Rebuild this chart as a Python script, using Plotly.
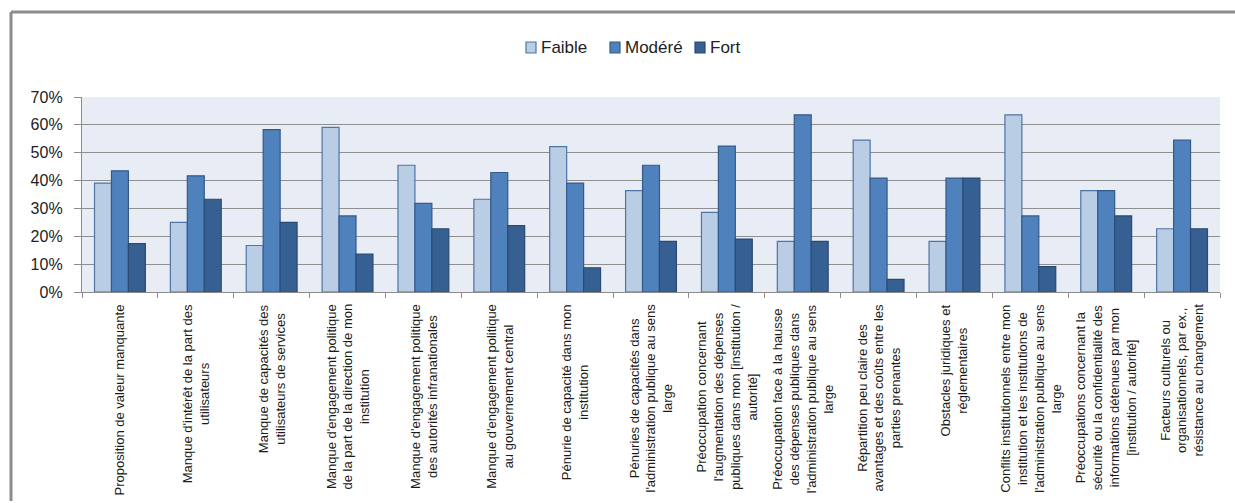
import plotly.graph_objects as go

# Obstacles (catégories) et part des réponses par niveau, en %
categories = [
    "Proposition de valeur manquante",
    "Manque d'intérêt de la part des<br>utilisateurs",
    "Manque de capacités des<br>utilisateurs de services",
    "Manque d'engagement politique<br>de la part de la direction de mon<br>institution",
    "Manque d'engagement politique<br>des autorités infranationales",
    "Manque d'engagement politique<br>au gouvernement central",
    "Pénurie de capacité dans mon<br>institution",
    "Pénuries de capacités dans<br>l'administration publique au sens<br>large",
    "Préoccupation concernant<br>l'augmentation des dépenses<br>publiques dans mon [institution /<br>autorité]",
    "Préoccupation face à la hausse<br>des dépenses publiques dans<br>l'administration publique au sens<br>large",
    "Répartition peu claire des<br>avantages et des coûts entre les<br>parties prenantes",
    "Obstacles juridiques et<br>réglementaires",
    "Conflits institutionnels entre mon<br>institution et les institutions de<br>l'administration publique au sens<br>large",
    "Préoccupations concernant la<br>sécurité ou la confidentialité des<br>informations détenues par mon<br>[institution / autorité]",
    "Facteurs culturels ou<br>organisationnels, par ex.,<br>résistance au changement",
]
faible = [39.1, 25.0, 16.7, 59.1, 45.5, 33.3, 52.2, 36.4, 28.6, 18.2, 54.5, 18.2, 63.6, 36.4, 22.7]
modere = [43.5, 41.7, 58.3, 27.3, 31.8, 42.9, 39.1, 45.5, 52.4, 63.6, 40.9, 40.9, 27.3, 36.4, 54.5]
fort = [17.4, 33.3, 25.0, 13.6, 22.7, 23.8, 8.7, 18.2, 19.0, 18.2, 4.5, 40.9, 9.1, 27.3, 22.7]
y_ticks = [0, 10, 20, 30, 40, 50, 60, 70]
y_tick_labels = [f"{v}%" for v in y_ticks]

keys = list(range(len(categories)))
FONT = "Liberation Sans, Arial, sans-serif"

W, H = 1235, 503
M = dict(l=82, r=15, t=97, b=211)
PW = W - M["l"] - M["r"]
PH = H - M["t"] - M["b"]


def px_to_paper(px, py):
    """Convert page pixel position to paper coordinates of the plot area."""
    return (px - M["l"]) / PW, (H - M["b"] - py) / PH


fig = go.Figure()
series = [
    ("Faible", faible, "#B9CDE5", "#4F74A6"),
    ("Modéré", modere, "#4F81BD", "#345A8A"),
    ("Fort", fort, "#376092", "#2A4A73"),
]
for name, vals, fill, edge in series:
    fig.add_trace(go.Bar(
        x=keys, y=vals, name=name, showlegend=False,
        marker=dict(color=fill, line=dict(color=edge, width=1.2)),
    ))

# Legend row: swatch + label for each series
legend_x = [526, 610, 695]
for (name, _, fill, edge), lx in zip(series, legend_x):
    x0, y0 = px_to_paper(lx, 53)
    x1, y1 = px_to_paper(lx + 10, 42)
    fig.add_shape(type="rect", xref="paper", yref="paper",
                  x0=x0, x1=x1, y0=y0, y1=y1,
                  fillcolor=fill, line=dict(color=edge, width=1.2))
    tx, ty = px_to_paper(lx + 13, 47.5)
    fig.add_annotation(x=tx, y=ty, xref="paper", yref="paper", text=name,
                       showarrow=False, xanchor="left", yanchor="middle",
                       font=dict(family=FONT, size=17, color="#222"))

# Category labels, rotated and centred line by line under each group
for k, label in zip(keys, categories):
    fig.add_annotation(
        x=k, xref="x", y=0, yref="paper", yshift=-10,
        text=label, textangle=-90, showarrow=False,
        xanchor="center", yanchor="top", align="center",
        font=dict(family=FONT, size=13, color="#1a1a1a"),
    )

# Outer chart frame (top and left edges)
frame = "#8C8C8C"
fx0, fy0 = px_to_paper(11, 12)
fx1, fy1 = px_to_paper(W + 5, 501)
fig.add_shape(type="line", xref="paper", yref="paper",
              x0=fx0, x1=fx1, y0=fy0, y1=fy0, line=dict(color=frame, width=3))
fig.add_shape(type="line", xref="paper", yref="paper",
              x0=fx0, x1=fx0, y0=fy0, y1=fy1, line=dict(color=frame, width=3))

fig.update_layout(
    width=W, height=H, autosize=False,
    margin=M,
    paper_bgcolor="white", plot_bgcolor="#E8ECF4",
    barmode="group", bargap=0.33, bargroupgap=0,
    font=dict(family=FONT, size=16, color="#222"),
    showlegend=False,
)
fig.update_xaxes(
    type="category", range=[-0.5, len(categories) - 0.5],
    showticklabels=False, ticks="outside", tickson="boundaries",
    ticklen=5, tickcolor="#8C8C8C", showline=True, linecolor="#8C8C8C",
    linewidth=1.3, showgrid=False, zeroline=False,
)
fig.update_yaxes(
    range=[0, 70], tickmode="array", tickvals=y_ticks, ticktext=y_tick_labels,
    ticks="outside", ticklen=7, tickcolor="#8C8C8C", ticklabelstandoff=8,
    showline=True, linecolor="#8C8C8C", linewidth=1.3,
    showgrid=True, gridcolor="#8F8F8F", gridwidth=1.3, zeroline=False,
    tickfont=dict(family=FONT, size=16, color="#222"),
)

fig.write_html("out.html")
